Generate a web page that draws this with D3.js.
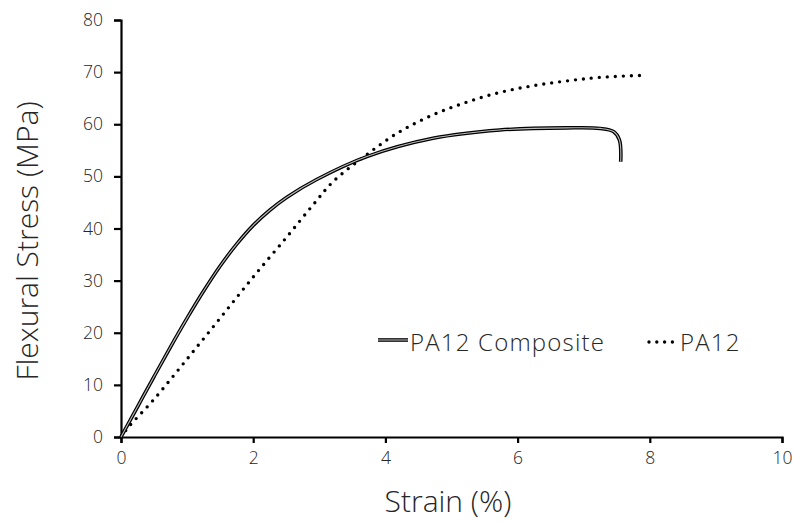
<!DOCTYPE html>
<html>
<head>
<meta charset="utf-8">
<script src="https://cdn.jsdelivr.net/npm/d3@7/dist/d3.min.js"></script>
<style>
  body { margin: 0; background: #fff; }
  text { font-family: "Open Sans", "Noto Sans", sans-serif; font-weight: 300; fill: #262626; }
</style>
</head>
<body>
<svg id="chart"></svg>
<script>
// strain (%) / flexural stress (MPa)
const compositeStrain = [0, 0.25, 0.5, 0.75, 1.0, 1.25, 1.5, 1.75, 2.0, 2.25, 2.51, 2.96, 3.72, 4.72, 5.73, 6.74, 7.25, 7.45, 7.54, 7.56];
const compositeStress = [0, 5.8, 11.6, 17.3, 22.8, 28.0, 32.8, 37.0, 40.6, 43.5, 46.0, 49.4, 53.8, 57.3, 58.9, 59.3, 59.2, 58.6, 57.0, 52.8];

const pa12Strain = [0, 0.12, 0.49, 0.99, 1.5, 2.0, 2.51, 2.91, 3.21, 3.72, 4.22, 4.72, 5.22, 5.73, 6.24, 6.74, 7.25, 7.95];
const pa12Stress = [0, 2.0, 7.1, 14.8, 22.8, 30.7, 38.4, 44.6, 49.0, 54.2, 58.6, 61.8, 64.2, 66.1, 67.4, 68.3, 69.0, 69.4];

const xTicks = [0, 2, 4, 6, 8, 10];
const yTicks = [0, 10, 20, 30, 40, 50, 60, 70, 80];
const seriesNames = ["PA12 Composite", "PA12"];

const width = 793, height = 522;
const margin = { left: 121, right: 11, top: 20, bottom: 85 };

const svg = d3.select("#chart").attr("width", width).attr("height", height);

const x = d3.scaleLinear().domain([0, 10]).range([margin.left, width - margin.right]);
const y = d3.scaleLinear().domain([0, 80]).range([height - margin.bottom, margin.top]);

// axes
const xAxis = svg.append("g")
    .attr("transform", `translate(0,${y(0)})`)
    .call(d3.axisBottom(x).tickValues(xTicks).tickSize(6).tickPadding(9).tickFormat(d3.format("d")));
const yAxis = svg.append("g")
    .attr("transform", `translate(${x(0)},0)`)
    .call(d3.axisLeft(y).tickValues(yTicks).tickSize(7).tickPadding(11).tickFormat(d3.format("d")));

[xAxis, yAxis].forEach(a => {
    a.select(".domain").attr("stroke", "#000").attr("stroke-width", 2.2);
    a.selectAll(".tick line").attr("stroke", "#000").attr("stroke-width", 2.2);
    a.selectAll(".tick text").style("font-size", "17.5px").attr("fill", "#333");
});

const line = d3.line().x(d => x(d[0])).y(d => y(d[1])).curve(d3.curveCatmullRom.alpha(0.5));

const composite = compositeStrain.map((s, i) => [s, compositeStress[i]]);
const pa12 = pa12Strain.map((s, i) => [s, pa12Stress[i]]);

// PA12 dotted
svg.append("path")
    .datum(pa12)
    .attr("d", line)
    .attr("fill", "none")
    .attr("stroke", "#000")
    .attr("stroke-width", 3.4)
    .attr("stroke-linecap", "round")
    .attr("stroke-dasharray", "0,8");

// composite: double line (black outline, light core)
svg.append("path")
    .datum(composite)
    .attr("d", line)
    .attr("fill", "none")
    .attr("stroke", "#000")
    .attr("stroke-width", 3.6);
svg.append("path")
    .datum(composite)
    .attr("d", line)
    .attr("fill", "none")
    .attr("stroke", "#bbb")
    .attr("stroke-width", 1.1);

// legend
svg.append("line").attr("x1", 378).attr("x2", 408).attr("y1", 340).attr("y2", 340)
    .attr("stroke", "#000").attr("stroke-width", 3.6);
svg.append("line").attr("x1", 378).attr("x2", 408).attr("y1", 340).attr("y2", 340)
    .attr("stroke", "#bbb").attr("stroke-width", 1.1);
svg.append("text").attr("x", 410).attr("y", 351)
    .style("font-size", "24px").style("letter-spacing", "1.2px").text(seriesNames[0]);

svg.append("line").attr("x1", 649).attr("x2", 673).attr("y1", 342).attr("y2", 342)
    .attr("stroke", "#000").attr("stroke-width", 3.4).attr("stroke-linecap", "round").attr("stroke-dasharray", "0,7.8");
svg.append("text").attr("x", 680).attr("y", 351)
    .style("font-size", "24px").style("letter-spacing", "1.2px").text(seriesNames[1]);

// axis titles
svg.append("text")
    .attr("x", 448).attr("y", 512)
    .attr("text-anchor", "middle")
    .style("font-size", "30px")
    .text("Strain (%)");
svg.append("text")
    .attr("transform", "translate(38,241) rotate(-90)")
    .attr("text-anchor", "middle")
    .style("font-size", "30px")
    .text("Flexural Stress (MPa)");
</script>
</body>
</html>
